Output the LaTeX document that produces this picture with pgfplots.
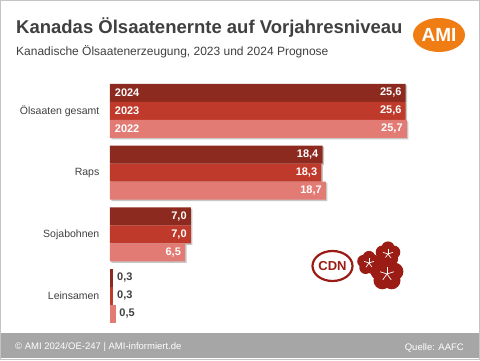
\documentclass[border=0pt]{standalone}
\usepackage{pgfplots}
\pgfplotsset{compat=1.18}
\usetikzlibrary{backgrounds}
\usepackage{fontspec}
\setmainfont{Liberation Sans}
\definecolor{cA}{HTML}{8C2A1F}
\definecolor{cB}{HTML}{BF3A2B}
\definecolor{cC}{HTML}{E27B73}
\definecolor{txt}{HTML}{404040}
\definecolor{foot}{HTML}{A6A6A6}
\definecolor{bord}{HTML}{C4C4C4}
\definecolor{ami}{HTML}{F07D14}
\definecolor{logo}{HTML}{9B1C14}
\newcommand{\flower}[3]{%
  \foreach \k in {0,...,4}{\fill[logo] ({#1+0.5*#3*cos(90+72*\k)},{#2+0.5*#3*sin(90+72*\k)}) circle ({0.55*#3});}
  \fill[logo] (#1,#2) circle ({0.6*#3});
  \foreach \k in {0,...,4}{\draw[white,line width=0.7pt] (#1,#2) -- ({#1+0.45*#3*cos(18+72*\k)},{#2+0.45*#3*sin(18+72*\k)});}
}
\begin{document}
\begin{tikzpicture}[x=1pt,y=1pt]
\begin{axis}[
  scale only axis,
  width=346.5pt, height=246.8pt,
  xmin=0, xmax=30, ymin=-0.5, ymax=3.5,
  axis x line=none, axis y line*=left,
  y axis line style={draw=none}, major tick length=0pt,
  ytick={0,1,2,3},
  yticklabels={Leinsamen,Sojabohnen,Raps,Ölsaaten gesamt},
  yticklabel style={anchor=east, inner sep=0pt, xshift=-10.5pt, text=txt, font=\fontsize{10.5}{12}\selectfont},
  clip=false,
  xbar, bar width=18pt,
  /pgf/number format/.cd, use comma, fixed, fixed zerofill, precision=1, assume math mode=true,
  /pgfplots/.cd,
  every node near coord/.append style={font=\bfseries\fontsize{11}{12}\selectfont},
]
% shadows
\addplot[xbar, bar shift=18pt, fill=black!22, draw=none, forget plot, transform canvas={xshift=1.5pt,yshift=-1.5pt}] coordinates {(25.6,3) (18.4,2) (7.0,1)};
\addplot[xbar, bar shift=0pt, fill=black!22, draw=none, forget plot, transform canvas={xshift=1.5pt,yshift=-1.5pt}] coordinates {(25.6,3) (18.3,2) (7.0,1)};
\addplot[xbar, bar shift=-18pt, fill=black!22, draw=none, forget plot, transform canvas={xshift=1.5pt,yshift=-1.5pt}] coordinates {(25.7,3) (18.7,2) (6.5,1)};
% main bars
\addplot[xbar, bar shift=18pt, fill=cA, draw=none, nodes near coords, nodes near coords style={anchor=east, inner sep=0pt, xshift=-4pt, text=white}] coordinates {(25.6,3) (18.4,2) (7.0,1)};
\addplot[xbar, bar shift=0pt, fill=cB, draw=none, nodes near coords, nodes near coords style={anchor=east, inner sep=0pt, xshift=-4pt, text=white}] coordinates {(25.6,3) (18.3,2) (7.0,1)};
\addplot[xbar, bar shift=-18pt, fill=cC, draw=none, nodes near coords, nodes near coords style={anchor=east, inner sep=0pt, xshift=-4pt, text=white}] coordinates {(25.7,3) (18.7,2) (6.5,1)};
% Leinsamen
\addplot[xbar, bar shift=18pt, fill=cA, draw=none, nodes near coords, nodes near coords style={anchor=west, inner sep=0pt, xshift=3.5pt, text=txt}] coordinates {(0.3,0)};
\addplot[xbar, bar shift=0pt, fill=cB, draw=none, nodes near coords, nodes near coords style={anchor=west, inner sep=0pt, xshift=3.5pt, text=txt}] coordinates {(0.3,0)};
\addplot[xbar, bar shift=-18pt, fill=cC, draw=none, nodes near coords, nodes near coords style={anchor=west, inner sep=0pt, xshift=3.5pt, text=txt}] coordinates {(0.5,0)};
% year labels
\node[anchor=west, inner sep=0pt, xshift=4.7pt, yshift=18pt, text=white, font=\bfseries\fontsize{11}{12}\selectfont] at (axis cs:0,3) {2024};
\node[anchor=west, inner sep=0pt, xshift=4.7pt, text=white, font=\bfseries\fontsize{11}{12}\selectfont] at (axis cs:0,3) {2023};
\node[anchor=west, inner sep=0pt, xshift=4.7pt, yshift=-18pt, text=white, font=\bfseries\fontsize{11}{12}\selectfont] at (axis cs:0,3) {2022};
\coordinate (O) at (axis cs:0,0);
\end{axis}
\begin{scope}[shift={(O)}]
\begin{scope}[shift={(-110,-64)}]
\begin{scope}[on background layer]
\fill[white] (0,0) rectangle (480,360);
\fill[foot] (0,2) rectangle (480,27);
\end{scope}
\draw[bord, line width=1pt] (0.5,0.5) rectangle (479.5,359.5);
\node[anchor=base west, inner sep=0pt, text=txt, font=\bfseries\fontsize{18.5}{20}\selectfont] at (16,326.5) {Kanadas Ölsaatenernte auf Vorjahresniveau};
\node[anchor=base west, inner sep=0pt, text=txt, font=\fontsize{12}{14}\selectfont] at (16,305) {Kanadische Ölsaatenerzeugung, 2023 und 2024 Prognose};
\fill[ami] (439,325) ellipse (26 and 17);
\node[text=white, font=\bfseries\fontsize{19}{20}\selectfont] at (439,325) {AMI};
\node[anchor=west, inner sep=0pt, text=white, font=\fontsize{9.5}{11}\selectfont] at (15,12.5) {© AMI 2024/OE-247 | AMI-informiert.de};
\node[anchor=east, inner sep=0pt, text=white, font=\fontsize{9.5}{11}\selectfont] at (464,12.5) {Quelle: AAFC};
\draw[logo, line width=2.2pt] (332.5,94) ellipse (20 and 15);
\node[text=logo, font=\bfseries\fontsize{13}{14}\selectfont] at (332.5,94) {CDN};
\flower{369}{97}{11.5}
\flower{388}{106}{12}
\flower{387}{86}{16}
\end{scope}
\end{scope}
\end{tikzpicture}
\end{document}
